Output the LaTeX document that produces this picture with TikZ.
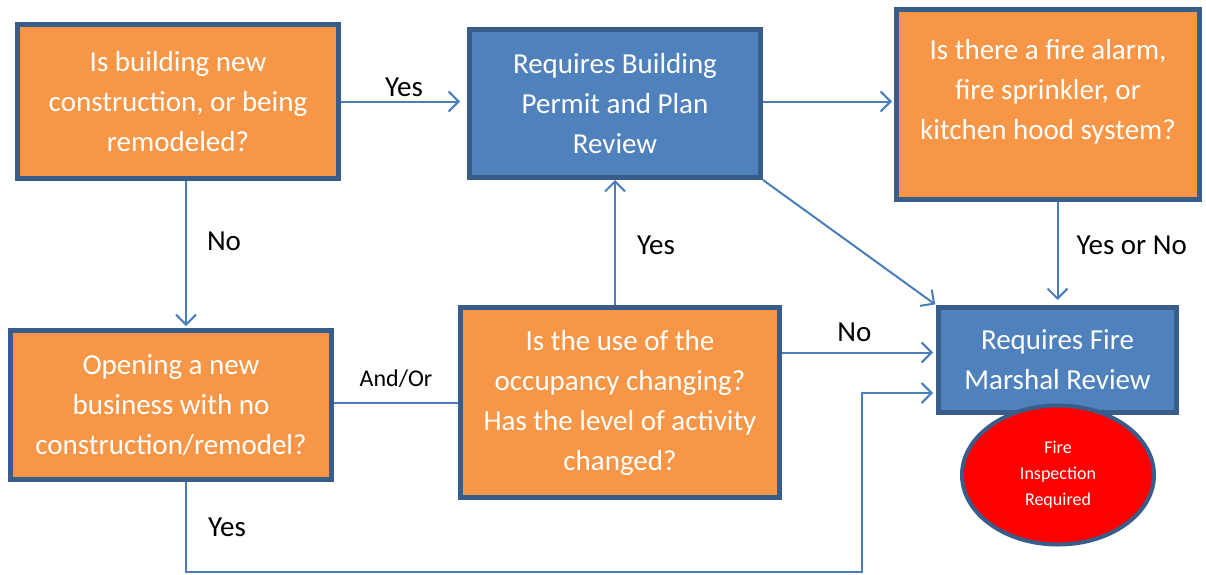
\documentclass[tikz,border=0pt]{standalone}
\usepackage{fontspec}
\setmainfont{Carlito}
\usetikzlibrary{arrows.meta,positioning,shapes.geometric}

\definecolor{boxorange}{HTML}{F79646}
\definecolor{boxblue}{HTML}{4F81BD}
\definecolor{boxline}{HTML}{385D8A}
\definecolor{linkblue}{HTML}{4A7EBB}

\tikzset{
  question/.style={draw=boxline, line width=5pt, fill=boxorange, text=white,
    align=center, inner sep=0pt, font=\fontsize{29}{40}\selectfont},
  action/.style={question, fill=boxblue},
  lbl/.style={text=black, inner sep=2pt, font=\fontsize{29}{34}\selectfont},
  link/.style={color=linkblue, line width=2pt}
}

\begin{document}
\begin{tikzpicture}[x=1pt,y=-1pt,->,>={Straight Barb[length=10pt,width=20pt]},line width=2pt]
    \useasboundingbox (0,0) rectangle (1206,574);

    %top row
    \node[question,minimum width=321pt,minimum height=154pt] (q_new) at (178,101.5) {Is building new\\construction, or being\\remodeled?};
    \node[action,minimum width=291pt,minimum height=148pt] (q_permit) at (615,103.5) {Requires Building\\Permit and Plan\\Review};
    \node[question,minimum width=303pt,minimum height=190pt] (q_alarm) at (1048,104.5) {Is there a fire alarm,\\fire sprinkler, or\\kitchen hood system?\\[-21pt]\strut};

    %bottom row
    \node[question,minimum width=321pt,minimum height=149pt] (q_biz) at (171,405) {Opening a new\\business with no\\construction/remodel?};
    \node[question,minimum width=319pt,minimum height=190pt] (q_use) at (620,402.5) {Is the use of the\\occupancy changing?\\Has the level of activity\\changed?};
    \node[action,minimum width=238pt,minimum height=105pt] (q_fire) at (1057.5,360) {Requires Fire\\Marshal Review};
    \node[ellipse,draw=boxline,line width=4pt,fill=red,text=white,align=center,inner sep=0pt,
      minimum width=192pt,minimum height=139pt,font=\fontsize{18}{26}\selectfont] (q_inspect) at (1058,475) {Fire\\Inspection\\Required};

    \coordinate (c_low) at (862,572);

    %top row links
    \path[link]
    (q_new.east) edge[shorten >=7pt] node[lbl,above=2pt] {Yes} (q_new.east -| q_permit.west)
    (q_permit.east |- q_new.east) edge[shorten >=2pt] (q_alarm.west |- q_new.east)
    (q_permit.south east) edge[shorten >=1pt] (q_fire.north west);

    %down links
    \path[link]
    ([xshift=8pt]q_new.south) edge[shorten >=2pt] node[lbl,right=18pt,pos=0.41] {No} ([xshift=8pt]q_new.south |- q_biz.north)
    (q_fire.north |- q_alarm.south) edge[shorten >=5pt] node[lbl,right=16pt,pos=0.42] {Yes or No} (q_fire.north);

    %occupancy links
    \path[link]
    (q_biz.east |- q_use.west) edge[-] node[lbl,above=12pt,font=\fontsize{24}{28}\selectfont] {And/Or} (q_use.west)
    (q_permit.south |- q_use.north) edge node[lbl,right=19pt,pos=0.48] {Yes} (q_permit.south)
    ([yshift=50pt]q_use.east) edge[shorten >=3pt] node[lbl,above=8pt,pos=0.47] {No} ([yshift=50pt]q_use.east -| q_fire.west);

    %no construction, yes
    \draw[link,shorten >=3pt] ([xshift=15pt]q_biz.south) -- node[lbl,right=19pt] {Yes} ([xshift=15pt]q_biz.south |- c_low)
      -- (c_low) |- ([yshift=-33pt]q_fire.west);
  \end{tikzpicture}
\end{document}
